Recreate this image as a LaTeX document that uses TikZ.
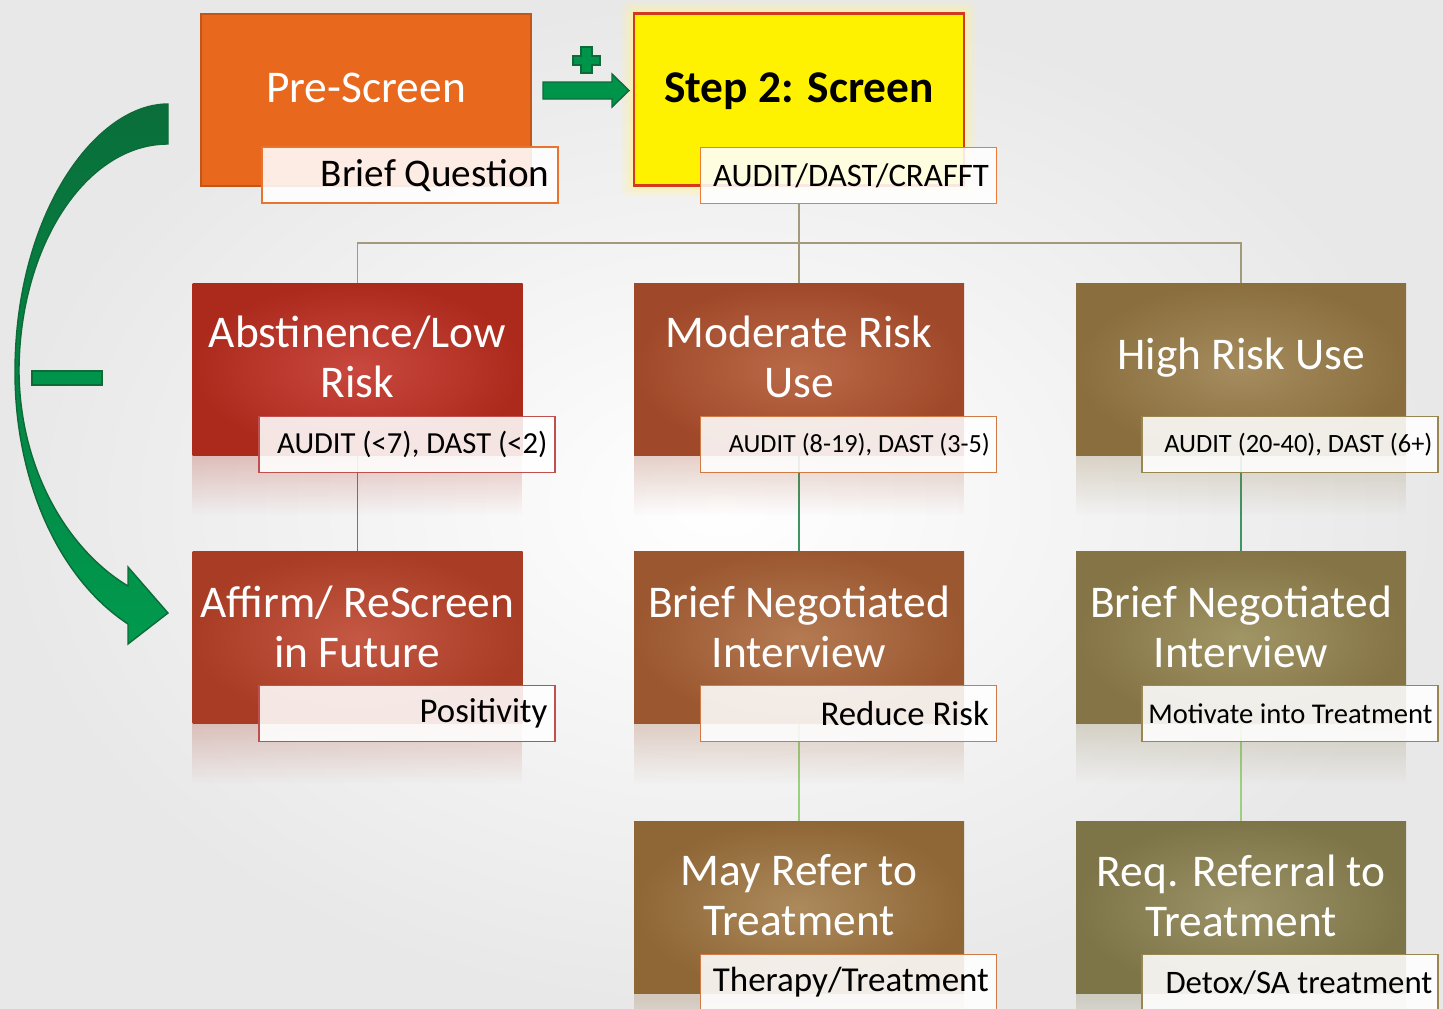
\documentclass[tikz,border=0pt]{standalone}
\usepackage{fontspec}
\setmainfont{Carlito}
\usetikzlibrary{fadings,backgrounds}
\tikzfading[name=reflfade, top color=transparent!75, bottom color=transparent!100]
\newcommand\fsz[1]{\fontsize{#1}{#1}\selectfont}
\definecolor{preO}{HTML}{E8681E}
\definecolor{preB}{HTML}{C0561A}
\definecolor{scrB}{HTML}{D23A1E}
\definecolor{glowC}{HTML}{FFF29A}
\definecolor{lPre}{HTML}{E8742E}
\definecolor{lScr}{HTML}{EC7C3A}
\definecolor{lA}{HTML}{C0504D}
\definecolor{lB}{HTML}{D07A46}
\definecolor{lC}{HTML}{9A8650}
\definecolor{iA2}{HTML}{C9483F}\definecolor{oA2}{HTML}{AC2A1C}
\definecolor{iB2}{HTML}{BA6A48}\definecolor{oB2}{HTML}{A0492A}
\definecolor{iC2}{HTML}{A58C5E}\definecolor{oC2}{HTML}{8A6E3E}
\definecolor{iA3}{HTML}{C45844}\definecolor{oA3}{HTML}{A83C24}
\definecolor{iB3}{HTML}{B47A52}\definecolor{oB3}{HTML}{9B5730}
\definecolor{iC3}{HTML}{A09565}\definecolor{oC3}{HTML}{857445}
\definecolor{iB4}{HTML}{AC8A5C}\definecolor{oB4}{HTML}{8F6636}
\definecolor{iC4}{HTML}{9C9468}\definecolor{oC4}{HTML}{7D7548}
\definecolor{treeC}{HTML}{A39A7C}
\definecolor{linkC}{HTML}{3F9463}
\definecolor{linkD}{HTML}{9AD07F}
\definecolor{gFill}{HTML}{00944A}
\definecolor{gEdge}{HTML}{0E6B38}
\definecolor{gDark}{HTML}{0A6E3A}
\definecolor{gLight}{HTML}{009A4E}
\begin{document}
\begin{tikzpicture}[x=0.5pt,y=-0.5pt,
  box/.style={inner sep=0pt, minimum width=165pt, minimum height=86pt},
  rbox/.style 2 args={box, inner color=#1, outer color=#2},
  title/.style={text=white, align=center, inner sep=0pt, font=\fontsize{22.7}{25}\selectfont},
  lbl/.style={draw=#1, line width=0.8pt, fill=white, fill opacity=0.88,
    minimum width=148pt, minimum height=28pt, inner sep=0pt},
  ltext/.style={anchor=east, inner sep=0pt, text=black},
  tree/.style={draw=treeC, line width=0.9pt},
  link/.style={draw=linkC, line width=0.9pt},
  linkb/.style={draw=linkD, line width=0.9pt},
  refl/.style={fill=#1, path fading=reflfade},
  garrow/.style={fill=gFill, draw=gEdge, line width=0.7pt}]
\useasboundingbox (0,0) rectangle (1443,1008);

% glow around step 2
\foreach \g/\o in {12/0.15, 8/0.25, 4/0.4}
  \fill[glowC, opacity=\o, rounded corners=3pt] (634-\g,14-\g) rectangle (964+\g,185+\g);

% top boxes
\node[box, fill=preO, draw=preB, line width=1pt] (pre) at (366,99.5) {};
\node[box, fill=yellow, draw=scrB, line width=1.2pt] (scr) at (799,99.5) {};
\node[title] (preT) at (366,88) {Pre-Screen};
\node[title, text=black, font=\bfseries\fontsize{22.7}{25}\selectfont] (scrT) at (799,91) {Step 2: Screen};

% row boxes
\node[rbox={iA2}{oA2}] (b21) at (357.5,369) {};
\node[rbox={iB2}{oB2}] (b22) at (799,369) {};
\node[rbox={iC2}{oC2}] (b23) at (1241,369) {};
\node[rbox={iA3}{oA3}] (b31) at (357.5,637.5) {};
\node[rbox={iB3}{oB3}] (b32) at (799,637.5) {};
\node[rbox={iC3}{oC3}] (b33) at (1241,637.5) {};
\node[rbox={iB4}{oB4}] (b42) at (799,907) {};
\node[rbox={iC4}{oC4}] (b43) at (1241,907) {};

% reflections
\foreach \b/\c in {b21/oA2,b22/oB2,b23/oC2,b31/oA3,b32/oB3,b33/oC3,b42/oB4,b43/oC4}
  \fill[refl=\c] (\b.south west) rectangle ++(330,60);

% titles
\node[title] (t21) at (357.5,357) {Abstinence/Low\\Risk};
\node[title] (t22) at (799,357) {Moderate Risk\\Use};
\node[title] (t23) at (1241,358) {High Risk Use};
\node[title] (t31) at (357.5,627) {Affirm/ ReScreen\\in Future};
\node[title] (t32) at (799,627) {Brief Negotiated\\Interview};
\node[title] (t33) at (1241,627) {Brief Negotiated\\Interview};
\node[title] (t42) at (799,895.5) {May Refer to\\Treatment};
\node[title] (t43) at (1241,895.5) {Req. Referral to\\Treatment};

% label boxes
\node[lbl=lPre] (lpre) at (410,175) {};
\node[lbl=lScr] (lscr) at (848.5,175.5) {};
\node[lbl=lA] (l21) at (407,444.5) {};
\node[lbl=lB] (l22) at (848.5,444.5) {};
\node[lbl=lC] (l23) at (1290,444.5) {};
\node[lbl=lA] (l31) at (407,713.5) {};
\node[lbl=lB] (l32) at (848.5,713.5) {};
\node[lbl=lC] (l33) at (1290,713.5) {};
\node[lbl=lB] (l42) at (848.5,982.5) {};
\node[lbl=lC] (l43) at (1290,982.5) {};

% label texts
\node[ltext, font=\fsz{19.6}] (xpre) at ([xshift=-4.5pt,yshift=-0.5pt]lpre.east) {Brief Question};
\node[ltext, font=\fsz{16.4}] (xscr) at ([xshift=-4pt]lscr.east) {AUDIT/DAST/CRAFFT};
\node[ltext, font=\fsz{15.3}] (x21) at ([xshift=-4pt]l21.east) {AUDIT (<7), DAST (<2)};
\node[ltext, font=\fsz{13.1}] (x22) at ([xshift=-3.5pt]l22.east) {AUDIT (8-19), DAST (3-5)};
\node[ltext, font=\fsz{13.2}] (x23) at ([xshift=-3pt]l23.east) {AUDIT (20-40), DAST (6+)};
\node[ltext, font=\fsz{17.4}] (x31) at ([xshift=-4pt]l31.east) {Positivity};
\node[ltext, font=\fsz{17.4}] (x32) at ([xshift=-4pt]l32.east) {Reduce Risk};
\node[ltext, font=\fsz{14.3}] (x33) at ([xshift=-3pt]l33.east) {Motivate into Treatment};
\node[ltext, font=\fsz{17.5}] (x42) at ([xshift=-4pt]l42.east) {Therapy/Treatment};
\node[ltext, font=\fsz{16.4}] (x43) at ([xshift=-3pt]l43.east) {Detox/SA treatment};

% connectors (behind)
\coordinate (bus) at (799,243);
\begin{scope}[on background layer]
  \shade[inner color=white, outer color=black!9] (0,0) rectangle (1443,1008);
  \draw[tree] (lscr.south -| bus) -- (bus) -| (b21.north);
  \draw[tree] (bus) -| (b23.north);
  \draw[tree] (bus) -- (b22.north);
  \draw[link] (b21) -- (b31);
  \draw[link] (b22) -- (b32);
  \draw[link] (b23) -- (b33);
  \draw[linkb] (b32) -- (b42);
  \draw[linkb] (b33) -- (b43);
\end{scope}

% plus and right block arrow
\path[garrow] (581,47) -- (592,47) -- (592,56) -- (600,56) -- (600,65) -- (592,65)
  -- (592,73) -- (581,73) -- (581,65) -- (573,65) -- (573,56) -- (581,56) -- cycle;
\path[garrow] (543,82) -- (612,82) -- (612,74) -- (629,90.5) -- (612,107) -- (612,99)
  -- (543,99) -- cycle;

% curved arrow
\path[draw=gEdge, line width=0.7pt, top color=gDark, bottom color=gLight]
  (168,104) .. controls (95,104) and (15,215) .. (15,372)
  .. controls (15,480) and (58,578) .. (128,624)
  -- (128,644) -- (168,613) -- (128,567) -- (128,586)
  .. controls (68,550) and (20,470) .. (19,372)
  .. controls (19,246) and (86,144) .. (168,144) -- cycle;
% minus
\path[garrow] (32,371) rectangle (102,385);
\end{tikzpicture}
\end{document}
